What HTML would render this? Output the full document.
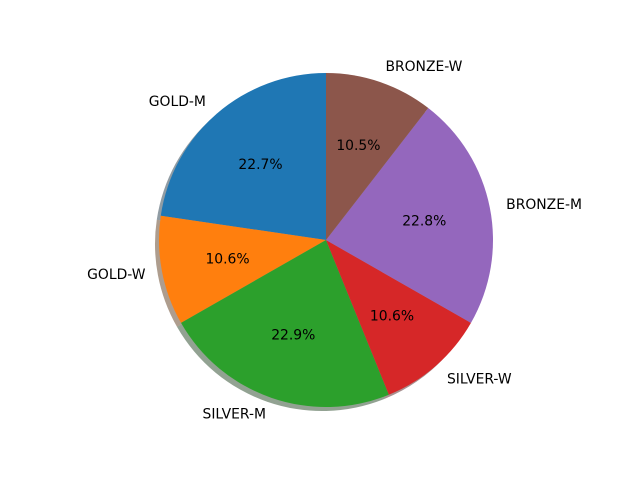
<!DOCTYPE html>
<html><head><meta charset="utf-8"><style>body{margin:0;background:#fff}svg{display:block}text{font-family:"DejaVu Sans","Liberation Sans",sans-serif;font-size:13.9px;fill:#000}</style></head>
<body>
<svg id="chart" width="640" height="480" viewBox="0 0 640 480" xmlns="http://www.w3.org/2000/svg">
<rect width="640" height="480" fill="#fff"/>
<g id="shadows"></g>
<g id="wedges"></g>
<g id="labels"></g>
</svg>
<script>
const categories = ["GOLD-M","GOLD-W","SILVER-M","SILVER-W","BRONZE-M","BRONZE-W"];
const values = [22.7,10.6,22.9,10.6,22.8,10.5];
const colors = ["#1f77b4","#ff7f0e","#2ca02c","#d62728","#9467bd","#8c564b"];
const cx=326, cy=240, R=167, NS="http://www.w3.org/2000/svg";
const total = values.reduce((a,b)=>a+b,0);
function pt(a,r,ox,oy){return [ox+r*Math.cos(a*Math.PI/180), oy-r*Math.sin(a*Math.PI/180)];}
function wedge(a0,a1,ox,oy){const p0=pt(a0,R,ox,oy),p1=pt(a1,R,ox,oy);const large=(a1-a0)>180?1:0;
return `M${ox},${oy} L${p0[0]},${p0[1]} A${R},${R} 0 ${large} 0 ${p1[0]},${p1[1]} Z`;}
function dark(h){const n=parseInt(h.slice(1),16);const r=(n>>16)*0.3|0,g=((n>>8)&255)*0.3|0,b=(n&255)*0.3|0;return `rgb(${r},${g},${b})`;}
let a=90;
values.forEach((v,i)=>{
  const a1=a+v/total*360, mid=(a+a1)/2;
  const s=document.createElementNS(NS,'path');
  s.setAttribute('d',wedge(a,a1,cx-4,cy+4));s.setAttribute('fill',dark(colors[i]));s.setAttribute('fill-opacity','0.45');
  
  
  document.getElementById('shadows').appendChild(s);
  const w=document.createElementNS(NS,'path');
  w.setAttribute('d',wedge(a,a1,cx,cy));w.setAttribute('fill',colors[i]);
  
  
  document.getElementById('wedges').appendChild(w);
  const lp=pt(mid,R*1.1,cx,cy);
  const t=document.createElementNS(NS,'text');
  t.setAttribute('x',lp[0]);t.setAttribute('y',lp[1]+5);
  t.setAttribute('text-anchor',lp[0]>=cx?'start':'end');t.textContent=categories[i];
  
  
  document.getElementById('labels').appendChild(t);
  const pp=pt(mid,R*0.6,cx,cy);
  const p=document.createElementNS(NS,'text');
  p.setAttribute('x',pp[0]);p.setAttribute('y',pp[1]+5);p.setAttribute('text-anchor','middle');
  p.textContent=(v/total*100).toFixed(1)+'%';
  
  
  document.getElementById('labels').appendChild(p);
  a=a1;
});
</script>
</body></html>
